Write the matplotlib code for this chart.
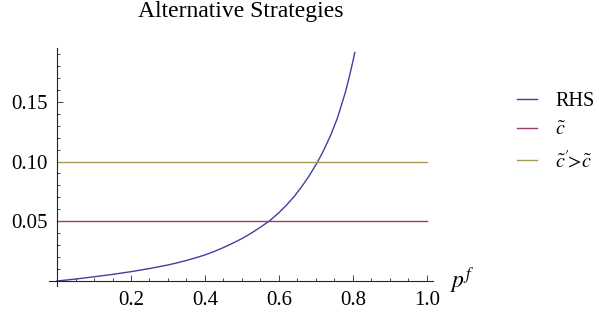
import matplotlib

matplotlib.use("Agg")
import matplotlib.pyplot as plt
from matplotlib.ticker import FixedLocator, MultipleLocator

# values
p_f = [0.0, 0.05, 0.1, 0.15, 0.2, 0.25, 0.3, 0.325, 0.35, 0.375, 0.4, 0.425,
       0.45, 0.475, 0.5, 0.525, 0.55, 0.573, 0.58, 0.6, 0.62, 0.64, 0.66,
       0.68, 0.7, 0.705, 0.72, 0.74, 0.757, 0.76, 0.78, 0.79, 0.8, 0.805]
rhs = [0.0, 0.0016, 0.0035, 0.0055, 0.0078, 0.0104, 0.0134, 0.0152, 0.0172,
       0.0194, 0.0218, 0.0247, 0.0280, 0.0316, 0.0355, 0.0400, 0.0450, 0.050,
       0.0518, 0.0572, 0.0634, 0.0703, 0.0783, 0.0872, 0.0974, 0.100, 0.1088,
       0.1221, 0.1355, 0.1383, 0.1584, 0.1707, 0.1839, 0.1913]
c_tilde = 0.05
c_tilde_alt = 0.10
x_span = [0.0, 1.0]

x_ticks = [0.2, 0.4, 0.6, 0.8, 1.0]
x_ticklabels = ["0.2", "0.4", "0.6", "0.8", "1.0"]
y_ticks = [0.05, 0.10, 0.15]
y_ticklabels = ["0.05", "0.10", "0.15"]

labels = ["RHS", r"$\tilde{c}$", r"$\tilde{c}'\!\!>\!\tilde{c}$"]
colors = ["#40409f", "#993d71", "#a89a55"]

plt.rcParams["font.family"] = ["Liberation Serif", "DejaVu Serif"]
plt.rcParams["mathtext.fontset"] = "stix"

fig = plt.figure(figsize=(5.99, 3.2), dpi=100)
ax = fig.add_axes([0.0816, 0.107, 0.641, 0.743])

ax.plot(p_f, rhs, color=colors[0], lw=1.0, label=labels[0])
ax.plot(x_span, [c_tilde] * 2, color=colors[1], lw=1.0, label=labels[1])
ax.plot(x_span, [c_tilde_alt] * 2, color=colors[2], lw=1.0, label=labels[2])

ax.set_xlim(-0.022, 1.016)
ax.set_ylim(-0.004, 0.195)

for side in ("top", "right"):
    ax.spines[side].set_visible(False)
ax.spines["left"].set_position(("data", 0))
ax.spines["bottom"].set_position(("data", 0))
for side in ("left", "bottom"):
    ax.spines[side].set_linewidth(0.8)
    ax.spines[side].set_color("#222222")

ax.xaxis.set_major_locator(FixedLocator(x_ticks))
ax.set_xticklabels(x_ticklabels)
ax.yaxis.set_major_locator(FixedLocator(y_ticks))
ax.set_yticklabels(y_ticklabels)
ax.xaxis.set_minor_locator(MultipleLocator(0.05))
ax.yaxis.set_minor_locator(MultipleLocator(0.01))
ax.tick_params(which="both", direction="in", color="#444444", width=0.7,
               labelsize=15)
ax.tick_params(which="major", length=4.5)
ax.tick_params(which="minor", length=2.5)
ax.tick_params(axis="x", pad=7)
ax.tick_params(axis="y", pad=7)

ax.text(1.063, 0.001, r"$p^f$", fontsize=17, ha="left", va="center")

ax.set_title("Alternative Strategies", fontsize=17, pad=22)

ax.legend(loc="upper left", bbox_to_anchor=(0.863, 0.713),
          bbox_transform=fig.transFigure, frameon=False, fontsize=14.5,
          handlelength=1.0, handletextpad=0.9, labelspacing=0.5,
          borderpad=0, borderaxespad=0)

fig.savefig("out.png", dpi=100)
